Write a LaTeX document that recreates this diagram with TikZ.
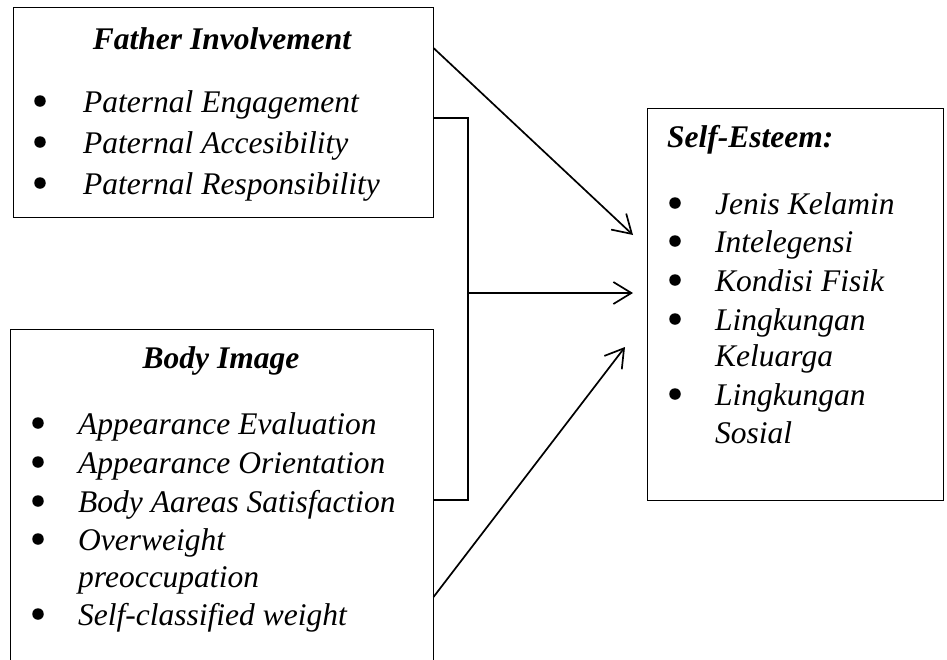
\documentclass[tikz,border=0pt]{standalone}
\usepackage{fontspec}
\setmainfont{Liberation Serif}
\usetikzlibrary{arrows.meta,positioning,calc}

\begin{document}
\begin{tikzpicture}[x=1pt, y=-1pt,
  block/.style={draw, line width=1pt, inner sep=0pt},
  head/.style={font=\fontsize{31.5}{38}\selectfont\bfseries\itshape,
               inner sep=0pt},
  item/.style={font=\fontsize{31.5}{38}\selectfont\itshape, inner sep=0pt,
               anchor=base west},
  dot/.style={circle, fill, inner sep=0pt, minimum size=11.5pt},
  arr/.style={-{Straight Barb[length=18pt,width=22pt]}, line width=1.7pt},
  link/.style={line width=2.2pt}
]
\path[use as bounding box, clip] (0,0) rectangle (947,659);

% Father Involvement
\node[block, minimum width=420pt, minimum height=210pt] (fi) at (223,112) {};
\node[head, anchor=base] (fititle) at (222,49) {Father Involvement};
\foreach \y/\txt [count=\i] in {112/Paternal Engagement,
    153/Paternal Accesibility, 194/Paternal Responsibility}{
  \node[dot] (fidot\i) at (40,\y-11) {};
  \node[item] (fiitem\i) at (83,\y) {\txt};
}

% Body Image
\node[block, minimum width=423pt, minimum height=342pt] (bi) at (221.5,500) {};
\node[head, anchor=base] (bititle) at (221,368) {Body Image};
\foreach \y/\txt [count=\i] in {434/Appearance Evaluation,
    473/Appearance Orientation, 512/Body Aareas Satisfaction,
    550/Overweight, 625/Self-classified weight}{
  \node[dot] (bidot\i) at (38,\y-11) {};
  \node[item] (biitem\i) at (78,\y) {\txt};
}
\node[item] (biitem4b) at (78,587) {preoccupation};

% Self-Esteem
\node[block, minimum width=296pt, minimum height=392pt] (se) at (795,304) {};
\node[head, anchor=base west] (setitle) at (667,147) {Self-Esteem:};
\foreach \y/\txt [count=\i] in {214/Jenis Kelamin, 252/Intelegensi,
    291/Kondisi Fisik, 330/Lingkungan, 405/Lingkungan}{
  \node[dot] (sedot\i) at (675,\y-11) {};
  \node[item] (seitem\i) at (715,\y) {\txt};
}
\node[item] (seitem4b) at (715,366) {Keluarga};
\node[item] (seitem5b) at (715,443) {Sosial};

% connectors
\coordinate (brk) at (468,293);
\coordinate (setip1) at (633,235);
\coordinate (setip2) at (633,293);
\coordinate (setip3) at (625,347);
\draw[link] ([yshift=-6pt]fi.east) -| (brk) |- (bi.east);
\draw[arr] ([yshift=64pt]fi.east) -- (setip1);
\draw[arr] (brk) -- (setip2);
\draw[arr] ([yshift=-97pt]bi.east) -- (setip3);

\end{tikzpicture}
\end{document}
